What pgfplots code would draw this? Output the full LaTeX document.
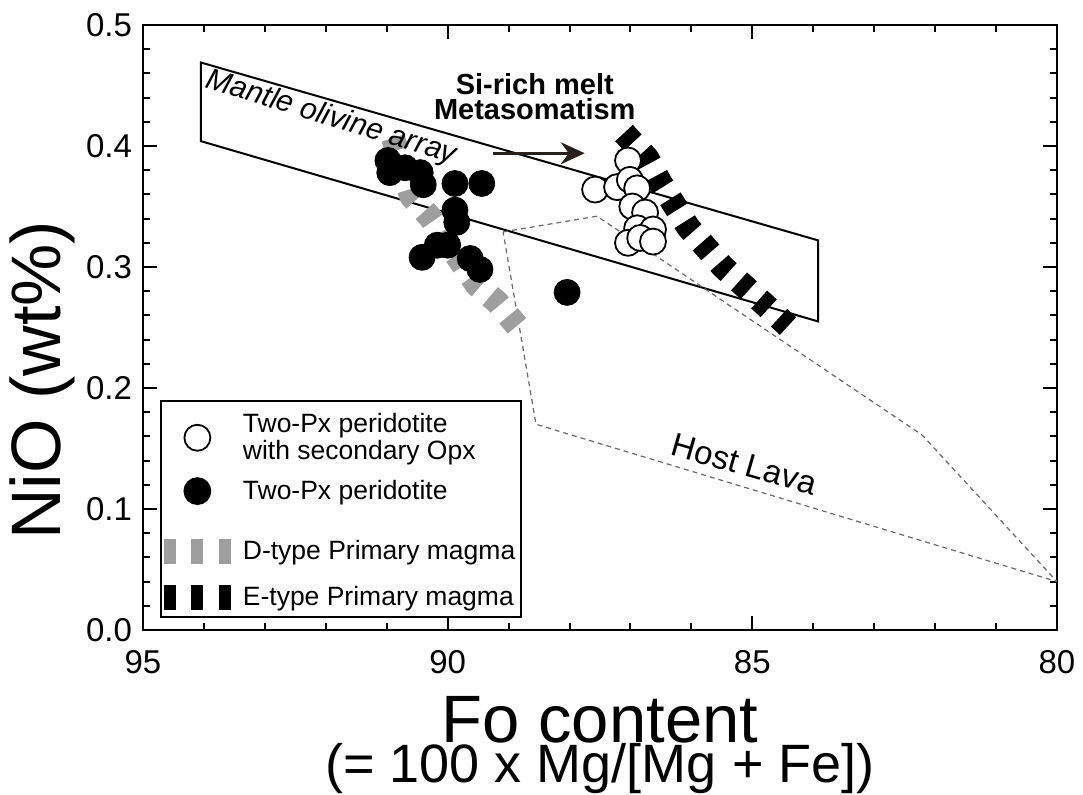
\documentclass[border=0pt]{standalone}
\usepackage{fontspec}
\setmainfont{Liberation Sans}
\setsansfont{Liberation Sans}
\usepackage{pgfplots}
\pgfplotsset{compat=1.18}
\usetikzlibrary{arrows.meta}
\definecolor{dgray}{RGB}{158,158,158}
\definecolor{lavagray}{RGB}{105,105,105}
\definecolor{arrowc}{RGB}{40,32,26}
\begin{document}
\begin{tikzpicture}
\useasboundingbox (-71.5pt,-82.5pt) rectangle (470pt,315pt);
\begin{axis}[
  at={(0,0)}, anchor=south west,
  scale only axis, width=457pt, height=302.5pt,
  x dir=reverse, xmin=80, xmax=95, ymin=0, ymax=0.5,
  enlargelimits=false,
  xtick={80,85,90,95}, ytick={0,0.1,0.2,0.3,0.4,0.5},
  minor x tick num=4, minor y tick num=4,
  tick align=inside, xtick pos=both, ytick pos=both,
  major tick length=7pt, minor tick length=3.5pt,
  axis line style={line width=1.25pt},
  every tick/.style={black, line width=1pt},
  /pgf/number format/assume math mode=true,
  yticklabel style={/pgf/number format/fixed, /pgf/number format/fixed zerofill, /pgf/number format/precision=1, xshift=-2pt},
  xticklabel style={yshift=-6.5pt},
  tick label style={font=\fontsize{16.5}{18}\selectfont},
  xlabel={{\fontsize{33.5}{30}\selectfont Fo content}\\[-1pt]{\fontsize{27}{27}\selectfont (= 100 x Mg/[Mg + Fe])}},
  xlabel style={at={(axis description cs:0.5,-0.19)}, anchor=center, align=center},
  ylabel={NiO (wt\%)},
  ylabel style={at={(axis description cs:-0.1105,0.413)}, anchor=center, font=\fontsize{35}{35}\selectfont},
  legend style={at={(axis description cs:0.0186,0.0198)}, anchor=south west, draw=black, line width=0.9pt, fill=white,
    font=\fontsize{13.25}{13.25}\selectfont, inner xsep=0pt, inner ysep=1pt, row sep=0pt, column sep=6pt,
    nodes={inner xsep=0pt, inner ysep=2pt},
    cells={anchor=west, align=left}},
  legend cell align=left,
]
\addlegendimage{legend image code/.code={\path[draw=none, fill=none] (-1.5pt,-13.5pt) rectangle (33.5pt,17.5pt); \draw[overlay, black, line width=0.9pt, fill=white] (16.75pt,0pt) circle[radius=6.5pt];}}
\addlegendentry{Two-Px peridotite\\with secondary Opx}
\addlegendimage{legend image code/.code={\path[draw=none, fill=none] (-1.5pt,-15pt) rectangle (33.5pt,12.5pt); \fill[overlay, black] (16.75pt,0pt) circle[radius=6.5pt];}}
\addlegendentry{Two-Px peridotite}
\addlegendimage{legend image code/.code={\path[draw=none, fill=none] (-1.5pt,-11.5pt) rectangle (33.5pt,15pt); \draw[overlay, dgray, line width=12.5pt, dash pattern=on 6pt off 7.75pt] (0pt,0pt) -- (33.5pt,0pt);}}
\addlegendentry{D-type Primary magma\hspace*{3pt}}
\addlegendimage{legend image code/.code={\path[draw=none, fill=none] (-1.5pt,-9pt) rectangle (33.5pt,11.5pt); \draw[overlay, black, line width=12.5pt, dash pattern=on 6pt off 7.75pt] (0pt,0pt) -- (33.5pt,0pt);}}
\addlegendentry{E-type Primary magma}

% Mantle olivine array
\addplot[black, line width=1pt, line join=miter, forget plot] coordinates {(94.05,0.469) (83.92,0.322) (83.92,0.255) (94.05,0.404)} -- cycle;
% Host lava field
\addplot[lavagray, line width=0.6pt, dash pattern=on 2.5pt off 2pt, forget plot] coordinates {(89.09,0.329) (87.55,0.342) (82.21,0.161) (80,0.04) (88.55,0.170)} -- cycle;
% D-type primary magma
\addplot[dgray, line width=12pt, dash pattern=on 6.5pt off 7pt, line join=bevel, forget plot] coordinates {(90.897,0.4066) (90.60,0.3587) (90.29,0.3413) (89.52,0.2851) (89.19,0.2711) (88.86,0.2512)};
% E-type primary magma
\addplot[black, line width=12pt, dash pattern=on 6.5pt off 7pt, line join=bevel, forget plot] coordinates {(87.106,0.4107) (86.728,0.3901) (86.515,0.3702) (86.055,0.3331) (85.481,0.3000) (84.824,0.2702) (84.414,0.2512)};
% Two-Px peridotite
\addplot[only marks, mark=*, mark size=6.5pt, mark options={black, fill=black}, forget plot] coordinates {
(90.98,0.388) (90.95,0.378) (90.70,0.382) (90.45,0.378) (90.40,0.368) (89.88,0.369) (89.44,0.369)
(89.88,0.347) (89.85,0.337) (90.17,0.318) (90.42,0.308) (90.00,0.318) (89.63,0.307) (89.47,0.298) (88.04,0.279)};
% Two-Px peridotite with secondary Opx
\addplot[only marks, mark=*, mark size=6.5pt, mark options={draw=black, fill=white, line width=0.9pt}, forget plot] coordinates {
(87.04,0.388) (87.58,0.364) (87.22,0.366) (87.01,0.372) (86.89,0.365) (86.97,0.350) (86.76,0.345)
(86.89,0.332) (86.63,0.331) (87.04,0.320) (86.84,0.324) (86.63,0.321)};
% Arrow
\addplot[arrowc, line width=1.5pt, -{Stealth[length=12pt, width=11pt, inset=4pt]}, forget plot] coordinates {(89.26,0.394) (87.75,0.394)};
\node[rotate=-17, font=\itshape\fontsize{15}{15}\selectfont] at (axis cs:91.91,0.423) {Mantle olivine array};
\node[font=\bfseries\fontsize{14.5}{12.5}\selectfont, align=center] at (axis cs:88.57,0.4405) {Si-rich melt\\Metasomatism};
\node[rotate=-16, font=\fontsize{16.5}{16.5}\selectfont] at (axis cs:85.13,0.137) {Host Lava};
\end{axis}
\end{tikzpicture}
\end{document}
